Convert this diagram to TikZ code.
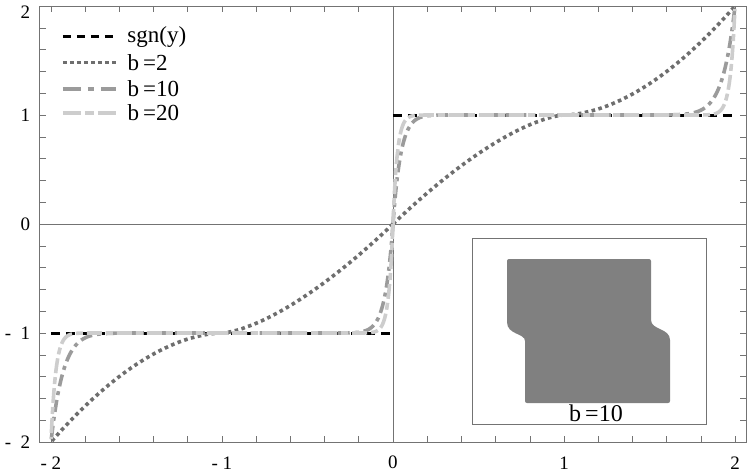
\documentclass[tikz,border=0pt]{standalone}
\usepackage{fontspec}
\setmainfont{Liberation Serif}
\begin{document}
\begin{tikzpicture}[x=171pt,y=109pt,
  frame/.style={draw=black!55,line width=0.7pt},
  tk/.style={black!55,line width=0.6pt},
  sgnline/.style={black,line width=3pt,dash pattern=on 9pt off 6pt},
  btwo/.style={color={rgb,255:red,110;green,110;blue,110},line width=3.6pt,dash pattern=on 3.6pt off 3.4pt},
  bten/.style={color={rgb,255:red,155;green,155;blue,155},line width=3.6pt,dash pattern=on 12pt off 5pt on 4pt off 5pt},
  btwenty/.style={color={rgb,255:red,205;green,205;blue,205},line width=3.6pt,dash pattern=on 15pt off 4pt on 7pt off 4pt},
  lab/.style={font=\rmfamily\fontsize{19}{19}\selectfont,inner sep=0pt,text=black},
  leg/.style={font=\rmfamily\fontsize{23}{23}\selectfont,inner sep=0pt,anchor=west,text=black}]
\useasboundingbox (-2.298,-2.275) rectangle (2.070,2.055);
% frame and axes
\draw[frame] (-2.065,-2) rectangle (2.065,2);
\draw[frame,line width=0.6pt] (-2.065,0) -- (2.065,0);
\draw[frame,line width=0.6pt] (0,-2) -- (0,2);
\foreach \i in {-10,...,10}{
  \draw[tk] (\i/5,-2) -- ++(0,6pt);
  \draw[tk] (\i/5,2) -- ++(0,-6pt);
  \draw[tk] (-2.065,\i/5) -- ++(6pt,0);
  \draw[tk] (2.065,\i/5) -- ++(-6pt,0);
}
% tick labels
\foreach \v/\t in {-2/{-\ 2},-1/{-\ 1},0/0,1/1,2/2}{
  \node[lab] (xl\v) at (\v,-2.19) {\t};
}
\foreach \v/\p/\t in {-2/-2/{-\ \ 2},-1/-1/{-\ \ 1},0/0/0,1/1/1,2/1.94/2}{
  \node[lab,anchor=east] (yl\v) at (-2.12,\p) {\t};
}
% sgn
\draw[sgnline] (0,1) -- (2,1);
\draw[sgnline] (-2,-1) -- (0,-1);
% curves
\foreach \s in {1,-1}{
  \draw[btwo] plot[domain=0:1,samples=60] ({\s*\x},{\s*(1-(1-\x)^1.5)});
  \draw[btwo] plot[domain=1:2,samples=60] ({\s*\x},{\s*(1+(\x-1)^1.8)});
  \draw[bten] plot[domain=0:1,samples=200] ({\s*\x},{\s*(1-(1-\x)^22)});
  \draw[bten] plot[domain=1:2,samples=200] ({\s*\x},{\s*(1+(\x-1)^14)});
  \draw[btwenty] plot[domain=0:1,samples=250] ({\s*\x},{\s*(1-(1-\x)^40)});
  \draw[btwenty] plot[domain=1:2,samples=250] ({\s*\x},{\s*(1+(\x-1)^36)});
}
% legend
\draw[sgnline,dash pattern=on 8pt off 6pt] (-1.93,1.72) -- (-1.62,1.72) node[leg,right=10pt] (t1) {sgn(y)};
\draw[btwo] (-1.93,1.48) -- (-1.62,1.48) node[leg,right=10pt] (t2) {b\,=2};
\draw[bten,dash pattern=on 18pt off 7pt on 6pt off 7pt] (-1.93,1.24) -- (-1.62,1.24) node[leg,right=10pt] (t3) {b\,=10};
\draw[btwenty,dash pattern=on 18pt off 4pt on 9pt off 4pt] (-1.93,1.02) -- (-1.62,1.02) node[leg,right=10pt] (t4) {b\,=20};
% inset
\begin{scope}[x=1pt,y=-1pt,shift={(-393pt,224pt)}]
  \draw[black!55,line width=0.7pt,fill=white] (472,238) rectangle (706,424);
  \fill[black!50,rounded corners=2pt]
    (507,259) -- (651,259) -- (651,318)
    .. controls (651,330) and (670,328) .. (670,342)
    -- (670,403) -- (525,403) -- (525,343)
    .. controls (525,333) and (507,335) .. (507,320) -- cycle;
  \node[font=\rmfamily\fontsize{24}{24}\selectfont,inner sep=0pt] (ins) at (596,413) {b\,=10};
\end{scope}
\end{tikzpicture}
\end{document}
